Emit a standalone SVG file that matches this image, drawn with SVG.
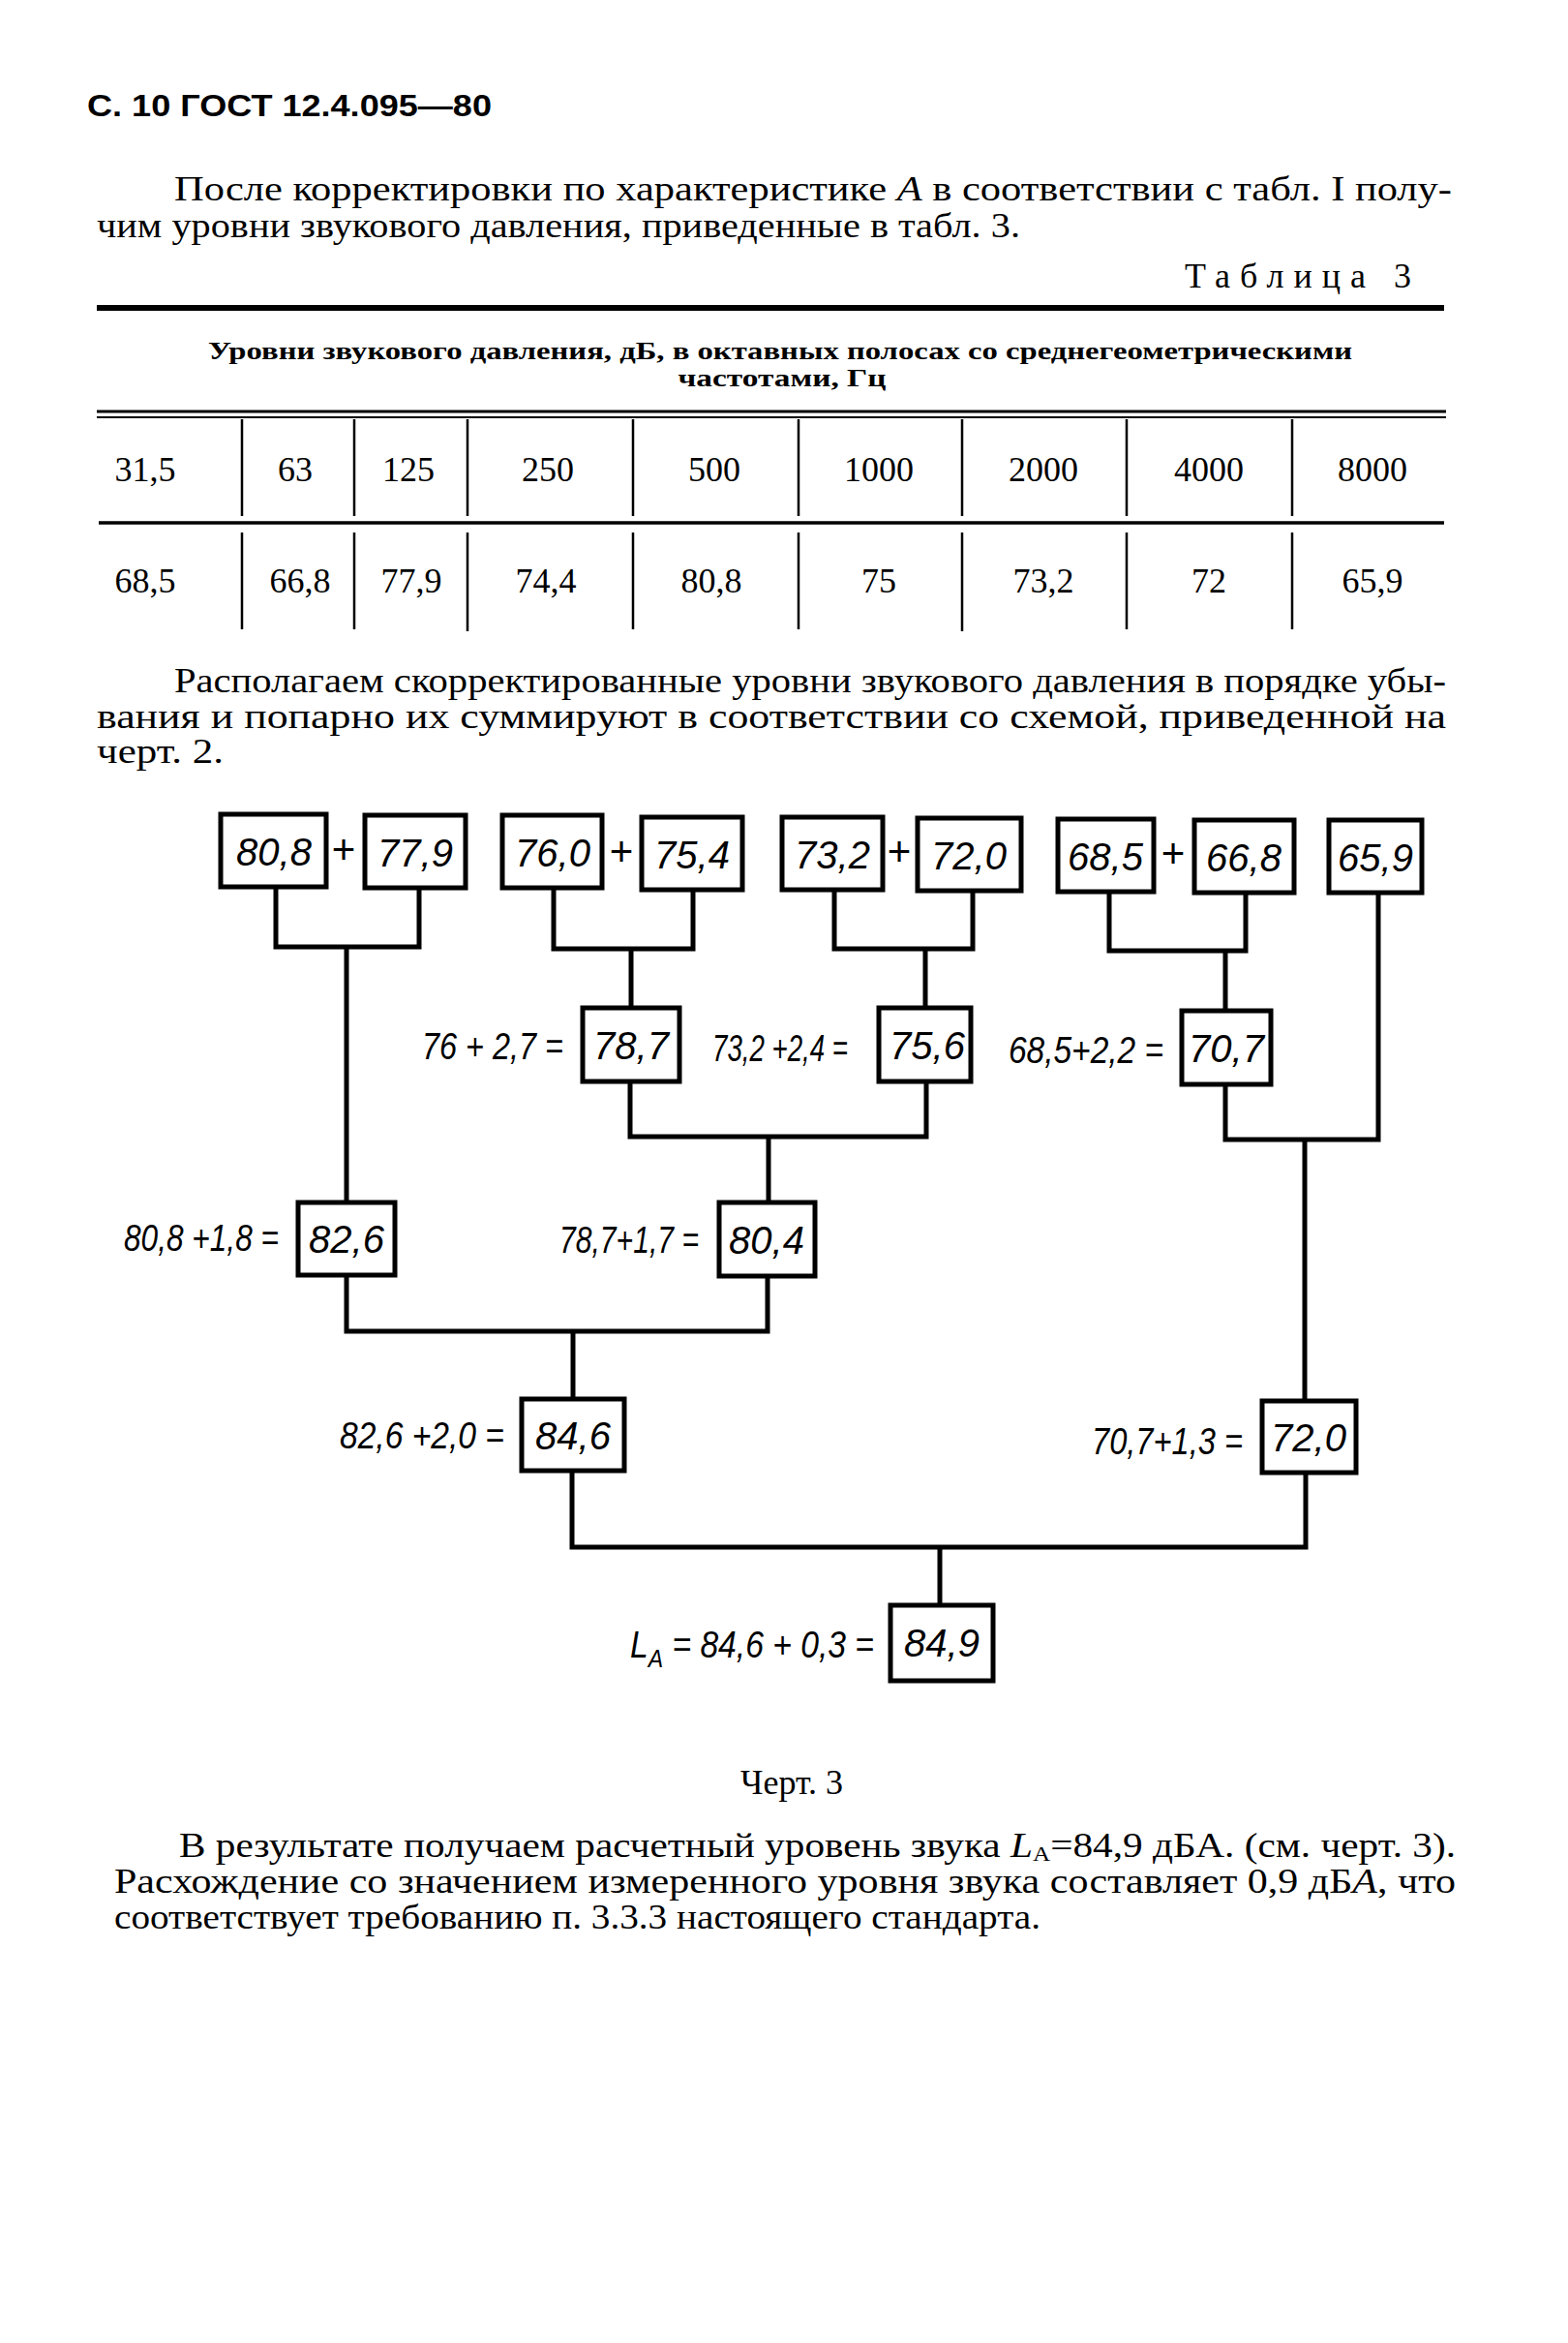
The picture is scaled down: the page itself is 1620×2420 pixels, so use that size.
<svg xmlns="http://www.w3.org/2000/svg" width="1620" height="2420" viewBox="0 0 1620 2420">
<style>
.bg{fill:#fff}
.body{font-family:"Liberation Serif","DejaVu Serif",serif;font-size:36px;fill:#000}
.cap{font-family:"Liberation Serif","DejaVu Serif",serif;font-size:26px;font-weight:bold;fill:#000}
.cell{font-family:"Liberation Serif","DejaVu Serif",serif;font-size:36px;fill:#000}
.head{font-family:"Liberation Sans","DejaVu Sans",sans-serif;font-size:31px;font-weight:bold;fill:#000}
.box rect{fill:#fff;stroke:#000;stroke-width:5}
.num{font-family:"Liberation Sans","DejaVu Sans",sans-serif;font-style:italic;font-size:40px;text-anchor:middle;fill:#000}
.eq{font-family:"Liberation Sans","DejaVu Sans",sans-serif;font-style:italic;font-size:38px;fill:#000}
.plus{font-family:"Liberation Sans","DejaVu Sans",sans-serif;font-size:42px;text-anchor:middle;fill:#000}
.conn path{fill:none;stroke:#000;stroke-width:5;stroke-linejoin:miter}
.rule{stroke:#000}
</style>
<rect class="bg" x="0" y="0" width="1620" height="2420"/>

<g id="page-header">
<text class="head" x="90" y="120" textLength="418" lengthAdjust="spacingAndGlyphs">С. 10 ГОСТ 12.4.095—80</text>
</g>

<g id="paragraph-1">
<text class="body" x="180" y="207" textLength="1320" lengthAdjust="spacingAndGlyphs">После корректировки по характеристике <tspan font-style="italic">A</tspan> в соответствии с табл. I полу-</text>
<text class="body" x="100" y="245" textLength="954" lengthAdjust="spacingAndGlyphs">чим уровни звукового давления, приведенные в табл. 3.</text>
</g>

<g id="table-3">
<text class="body" x="1224" y="297" font-size="35" textLength="234" lengthAdjust="spacing">Таблица 3</text>
<line class="rule" x1="100" y1="318" x2="1492" y2="318" stroke-width="6"/>
<text class="cap" x="806" y="371" text-anchor="middle" textLength="1182" lengthAdjust="spacingAndGlyphs">Уровни звукового давления, дБ, в октавных полосах со среднегеометрическими</text>
<text class="cap" x="808" y="399" text-anchor="middle" textLength="215" lengthAdjust="spacingAndGlyphs">частотами, Гц</text>
<line class="rule" x1="100" y1="425" x2="1494" y2="425" stroke-width="3"/>
<line class="rule" x1="100" y1="431" x2="1494" y2="431" stroke-width="2"/>
<line class="rule" x1="102" y1="540" x2="1492" y2="540" stroke-width="3.5"/>
<g stroke="#000" stroke-width="2.5">
<line x1="250" y1="433" x2="250" y2="533"/><line x1="366" y1="433" x2="366" y2="533"/>
<line x1="483" y1="433" x2="483" y2="533"/><line x1="654" y1="433" x2="654" y2="533"/>
<line x1="825" y1="433" x2="825" y2="533"/><line x1="994" y1="433" x2="994" y2="533"/>
<line x1="1164" y1="433" x2="1164" y2="533"/><line x1="1335" y1="433" x2="1335" y2="533"/>
<line x1="250" y1="550" x2="250" y2="650"/><line x1="366" y1="550" x2="366" y2="650"/>
<line x1="483" y1="550" x2="483" y2="652"/><line x1="654" y1="550" x2="654" y2="650"/>
<line x1="825" y1="550" x2="825" y2="650"/><line x1="994" y1="550" x2="994" y2="652"/>
<line x1="1164" y1="550" x2="1164" y2="650"/><line x1="1335" y1="550" x2="1335" y2="650"/>
</g>
<g class="cell" text-anchor="middle">
<text x="150" y="497">31,5</text><text x="305" y="497">63</text><text x="422" y="497">125</text>
<text x="566" y="497">250</text><text x="738" y="497">500</text><text x="908" y="497">1000</text>
<text x="1078" y="497">2000</text><text x="1249" y="497">4000</text><text x="1418" y="497">8000</text>
<text x="150" y="612">68,5</text><text x="310" y="612">66,8</text><text x="425" y="612">77,9</text>
<text x="564" y="612">74,4</text><text x="735" y="612">80,8</text><text x="908" y="612">75</text>
<text x="1078" y="612">73,2</text><text x="1249" y="612">72</text><text x="1418" y="612">65,9</text>
</g>
</g>

<g id="paragraph-2">
<text class="body" x="180" y="715" textLength="1314" lengthAdjust="spacingAndGlyphs">Располагаем скорректированные уровни звукового давления в порядке убы-</text>
<text class="body" x="100" y="752" textLength="1394" lengthAdjust="spacingAndGlyphs">вания и попарно  их  суммируют  в  соответствии со схемой, приведенной на</text>
<text class="body" x="100" y="788" textLength="131" lengthAdjust="spacingAndGlyphs">черт. 2.</text>
</g>

<g class="conn" id="connectors">
<path d="M285,918 V978 H433 V918"/>
<path d="M358,978 V1242"/>
<path d="M572,918 V980 H716 V918"/>
<path d="M652,980 V1041"/>
<path d="M862,918 V980 H1005 V918"/>
<path d="M956,980 V1041"/>
<path d="M1146,920 V982 H1287 V920"/>
<path d="M1266,982 V1044"/>
<path d="M651,1117 V1174 H957 V1117"/>
<path d="M794,1174 V1242"/>
<path d="M1266,1120 V1177 H1424 V922"/>
<path d="M1348,1177 V1447"/>
<path d="M358,1317 V1375 H793 V1318"/>
<path d="M592,1375 V1445"/>
<path d="M591,1519 V1598 H1349 V1521"/>
<path d="M971,1598 V1658"/>
</g>

<g id="plus-signs">
<text class="plus" x="355" y="892">+</text>
<text class="plus" x="642" y="894">+</text>
<text class="plus" x="929" y="894">+</text>
<text class="plus" x="1212" y="896">+</text>
</g>

<g class="box" id="n-80-8"><rect x="228" y="841" width="109" height="75"/><text class="num" x="283" y="894">80,8</text></g>
<g class="box" id="n-77-9"><rect x="377" y="842" width="104" height="75"/><text class="num" x="429" y="895">77,9</text></g>
<g class="box" id="n-76-0"><rect x="519" y="842" width="103" height="75"/><text class="num" x="571" y="895">76,0</text></g>
<g class="box" id="n-75-4"><rect x="663" y="844" width="104" height="75"/><text class="num" x="715" y="897">75,4</text></g>
<g class="box" id="n-73-2"><rect x="808" y="844" width="104" height="75"/><text class="num" x="860" y="897">73,2</text></g>
<g class="box" id="n-72-0a"><rect x="948" y="845" width="107" height="75"/><text class="num" x="1001" y="898">72,0</text></g>
<g class="box" id="n-68-5"><rect x="1093" y="846" width="99" height="75"/><text class="num" x="1142" y="899">68,5</text></g>
<g class="box" id="n-66-8"><rect x="1234" y="847" width="103" height="75"/><text class="num" x="1285" y="900">66,8</text></g>
<g class="box" id="n-65-9"><rect x="1373" y="847" width="96" height="75"/><text class="num" x="1421" y="900">65,9</text></g>

<g class="box" id="n-78-7"><text class="eq" x="436" y="1094" textLength="146" lengthAdjust="spacingAndGlyphs">76 + 2,7 =</text><rect x="602" y="1041" width="100" height="76"/><text class="num" x="652" y="1094">78,7</text></g>
<g class="box" id="n-75-6"><text class="eq" x="736" y="1096" font-size="33" textLength="140" lengthAdjust="spacingAndGlyphs">73,2 +2,4 =</text><rect x="908" y="1041" width="95" height="76"/><text class="num" x="958" y="1094" font-size="38">75,6</text></g>
<g class="box" id="n-70-7"><text class="eq" x="1042" y="1098" textLength="160" lengthAdjust="spacingAndGlyphs">68,5+2,2 =</text><rect x="1221" y="1044" width="92" height="76"/><text class="num" x="1267" y="1097">70,7</text></g>

<g class="box" id="n-82-6"><text class="eq" x="128" y="1292" textLength="160" lengthAdjust="spacingAndGlyphs">80,8 +1,8 =</text><rect x="308" y="1242" width="100" height="75"/><text class="num" x="358" y="1294">82,6</text></g>
<g class="box" id="n-80-4"><text class="eq" x="578" y="1294" textLength="144" lengthAdjust="spacingAndGlyphs">78,7+1,7 =</text><rect x="743" y="1242" width="99" height="76"/><text class="num" x="792" y="1295">80,4</text></g>

<g class="box" id="n-84-6"><text class="eq" x="351" y="1496" textLength="170" lengthAdjust="spacingAndGlyphs">82,6 +2,0 =</text><rect x="539" y="1445" width="106" height="74"/><text class="num" x="592" y="1497">84,6</text></g>
<g class="box" id="n-72-0b"><text class="eq" x="1128" y="1502" textLength="156" lengthAdjust="spacingAndGlyphs">70,7+1,3 =</text><rect x="1304" y="1447" width="97" height="74"/><text class="num" x="1352" y="1499">72,0</text></g>

<g class="box" id="n-84-9"><text class="eq" x="651" y="1712" textLength="252" lengthAdjust="spacingAndGlyphs">L<tspan font-size="26" dy="10">A</tspan><tspan dy="-10"> = 84,6 + 0,3 =</tspan></text><rect x="920" y="1658" width="106" height="78"/><text class="num" x="973" y="1711">84,9</text></g>

<g id="caption">
<text class="body" x="818" y="1853" font-size="35" text-anchor="middle">Черт. 3</text>
</g>

<g id="paragraph-3">
<text class="body" x="185" y="1918" textLength="1319" lengthAdjust="spacingAndGlyphs">В результате получаем расчетный уровень звука <tspan font-style="italic">L</tspan><tspan font-size="22" dy="4">А</tspan><tspan dy="-4">=84,9 дБА. (см. черт. 3).</tspan></text>
<text class="body" x="118" y="1955" textLength="1386" lengthAdjust="spacingAndGlyphs">Расхождение со значением измеренного уровня звука составляет 0,9 дБ<tspan font-style="italic">А</tspan>, что</text>
<text class="body" x="118" y="1992" textLength="957" lengthAdjust="spacingAndGlyphs">соответствует требованию п. 3.3.3 настоящего стандарта.</text>
</g>
</svg>
